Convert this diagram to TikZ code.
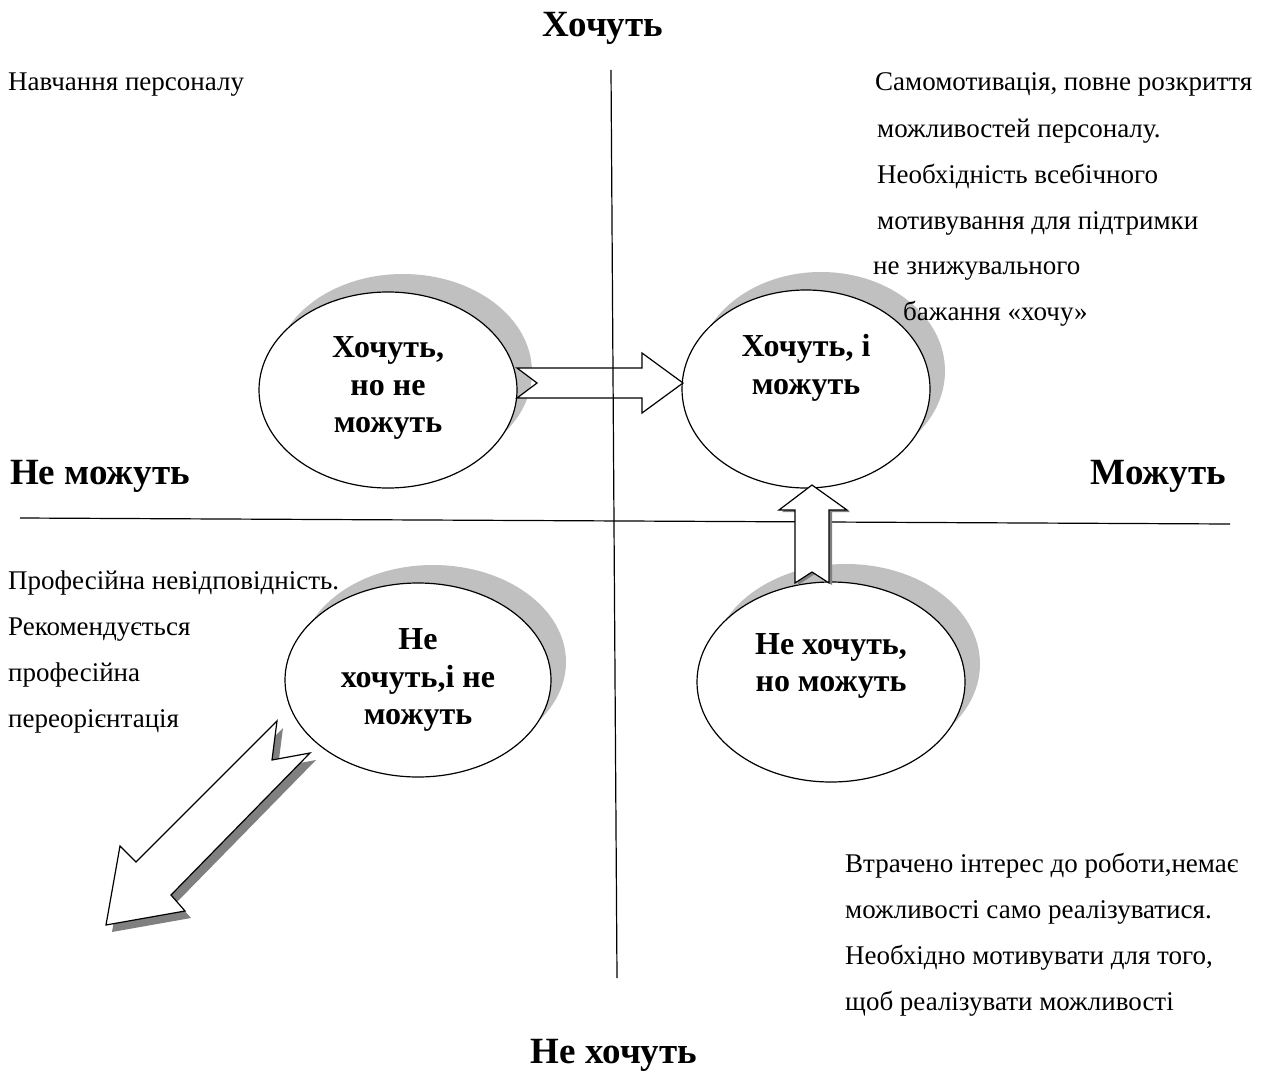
\documentclass[tikz,border=0pt]{standalone}
\usepackage{fontspec}
\setmainfont{Liberation Serif}
\usetikzlibrary{shapes.geometric,backgrounds}
\definecolor{halo}{HTML}{C0C0C0}
\definecolor{darkhalo}{HTML}{808080}
\begin{document}
\begin{tikzpicture}[x=1pt,y=-1pt,
  body/.style={font=\fontsize{27}{32}\selectfont, inner sep=0pt, anchor=base west},
  axislabel/.style={font=\bfseries\fontsize{37}{44}\selectfont, inner sep=0pt},
  oval/.style={ellipse, draw, line width=1.2pt, fill=white, inner sep=0pt},
  ovaltext/.style={font=\bfseries\fontsize{32}{37.5}\selectfont, align=center, inner sep=0pt},
  blockarrow/.style={draw, fill=white, line width=1.2pt, line join=miter},
  axisline/.style={line width=1.2pt}]
\useasboundingbox (0,0) rectangle (1268,1075);

% axis captions
\node[axislabel] (want)    at (603,28)   {Хочуть};
\node[axislabel] (notwant) at (614,1055) {Не хочуть};
\node[axislabel, anchor=west] (cannot) at (10,476)  {Не можуть};
\node[axislabel, anchor=east] (can)    at (1226,476) {Можуть};

% horizontal axis
\coordinate (hl) at (20,518);
\coordinate (hr) at (1230,524);
\draw[axisline] (hl) -- (hr);

% the four states
\node[oval, minimum width=258pt, minimum height=196pt] (e1) at (388,390) {};
\node[oval, minimum width=248pt, minimum height=198pt] (e2) at (806,389) {};
\node[oval, minimum width=268pt, minimum height=200pt] (e3) at (831,682) {};
\node[oval, minimum width=266pt, minimum height=194pt] (e4) at (418,680) {};

% grey shadows behind the ovals, shifted up and to the right
\begin{scope}[on background layer]
  \foreach \e/\rx/\ry in {e1/129/98, e2/124/99, e3/134/100, e4/133/97}
    \fill[halo] ([xshift=15pt,yshift=18pt]\e.center) ellipse [x radius=\rx, y radius=\ry];
\end{scope}

\node[ovaltext] (t1) at (388,388) {Хочуть,\\но не\\можуть};
\node[ovaltext] (t2) at (806,368) {Хочуть, і\\можуть};
\node[ovaltext] (t3) at (831,666) {Не хочуть,\\но можуть};
\node[ovaltext] (t4) at (418,680) {Не\\хочуть,і не\\можуть};

% block arrows
\draw[blockarrow] (517,368) -- (642,368) -- (642,353) -- (683,383) -- (642,413)
  -- (642,398) -- (517,398) -- (537,383) -- cycle;

\fill[darkhalo] (798,585) -- (798,512) -- (782,512) -- (815,487) -- (850,512)
  -- (832,512) -- (832,585) -- (815,574) -- cycle;
\draw[blockarrow] (795,583) -- (795,510) -- (779,510) -- (812,485) -- (847,510)
  -- (829,510) -- (829,583) -- (812,572) -- cycle;

\fill[darkhalo] (283,728) -- (142,869) -- (126,853) -- (112,932) -- (191,918)
  -- (177,902) -- (316,760) -- (278,767) -- cycle;
\draw[blockarrow] (277,721) -- (136,862) -- (120,846) -- (106,925) -- (185,911)
  -- (171,895) -- (310,753) -- (272,760) -- cycle;

% vertical axis
\coordinate (vt) at (611,70);
\coordinate (vb) at (617,978);
\draw[axisline] (vt) -- (vb);

% quadrant notes
\node[body] (n1) at (8,91) {Навчання персоналу};

\node[body] (n2a) at (875,91)  {Самомотивація, повне розкриття};
\node[body] (n2b) at (877,138) {можливостей персоналу.};
\node[body] (n2c) at (877,184) {Необхідність всебічного};
\node[body] (n2d) at (877,230) {мотивування для підтримки};
\node[body] (n2e) at (873,274) {не знижувального};
\node[body] (n2f) at (903,320) {бажання «хочу»};

\node[body] (n3a) at (8,589) {Професійна невідповідність.};
\node[body] (n3b) at (8,635) {Рекомендується};
\node[body] (n3c) at (8,681) {професійна};
\node[body] (n3d) at (8,727) {переорієнтація};

\node[body] (n4a) at (845,872)  {Втрачено інтерес до роботи,немає};
\node[body] (n4b) at (845,918)  {можливості само реалізуватися.};
\node[body] (n4c) at (845,964)  {Необхідно мотивувати для того,};
\node[body] (n4d) at (845,1010) {щоб реалізувати можливості};
\end{tikzpicture}
\end{document}
